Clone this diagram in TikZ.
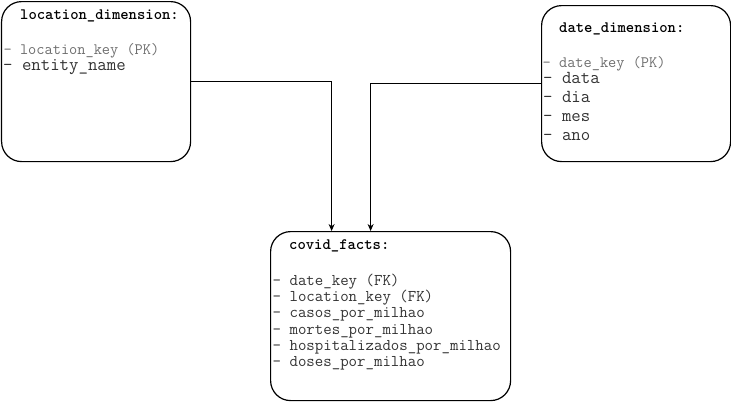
\documentclass[tikz,border=0pt]{standalone}
\usepackage{fontspec}
\usetikzlibrary{positioning}
\usetikzlibrary{arrows.meta}
\definecolor{keygray}{HTML}{6E6E6E}
\definecolor{fieldgray}{HTML}{333333}

\begin{document}
\begin{tikzpicture}[
    x=1pt, y=-1pt,
    tablebox/.style={draw,rounded corners=20pt,line width=1.2pt,anchor=north west,inner sep=0},
    tabletitle/.style={anchor=base west,inner sep=0,font=\ttfamily\bfseries\fontsize{15.9}{18}\selectfont},
    keyfield/.style={anchor=base west,inner sep=0,text=keygray,font=\ttfamily\fontsize{15.9}{18}\selectfont},
    bigfield/.style={anchor=base west,inner sep=0,text=fieldgray,font=\ttfamily\fontsize{18.3}{20}\selectfont},
    factfield/.style={anchor=base west,inner sep=0,text=fieldgray,font=\ttfamily\fontsize{16.4}{18}\selectfont},
    conn/.style={-{Stealth[length=7pt,width=6pt]},line width=0.9pt}
    ]

    \useasboundingbox (0,0) rectangle (731,402);

    % tables
    \node[tablebox, minimum width=189pt, minimum height=160pt] (loc) at (1,1) {};
    \node[tablebox, minimum width=189pt, minimum height=156pt] (date) at (541,5) {};
    \node[tablebox, minimum width=240pt, minimum height=169pt] (facts) at (270,231) {};

    % location_dimension
    \node[tabletitle] (loctitle) at (20,19) {location\_dimension:};
    \node[keyfield] (lockey) at (3.5,54) {- location\_key (PK)};
    \node[bigfield] (locname) at (3,70.5) {- entity\_name};

    % date_dimension
    \node[tabletitle] (datetitle) at (559,32) {date\_dimension:};
    \node[keyfield] (datekey) at (542.5,67) {- date\_key (PK)};
    \node[bigfield] (data) at (543,83) {- data};
    \node[bigfield] (dia) at (543,102) {- dia};
    \node[bigfield] (mes) at (543,121) {- mes};
    \node[bigfield] (ano) at (543,140) {- ano};

    % covid_facts
    \node[tabletitle] (factstitle) at (289,249) {covid\_facts:};
    \foreach \field [count=\i] in {date\_key (FK), location\_key (FK), casos\_por\_milhao,
        mortes\_por\_milhao, hospitalizados\_por\_milhao, doses\_por\_milhao}
        \node[factfield] (fact\i) at (272.5,269.3+16.2*\i) {- \field};

    % connectors
    \draw[conn] (loc.east) -| ([xshift=-59pt]facts.north);
    \draw[conn] (date.west) -| ([xshift=-20pt]facts.north);

\end{tikzpicture}
\end{document}
